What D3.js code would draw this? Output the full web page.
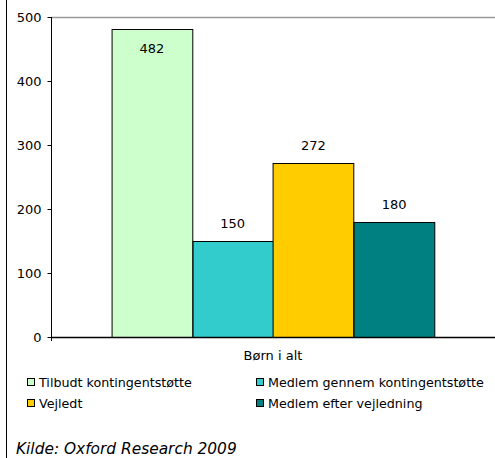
<!DOCTYPE html>
<html>
  <head>
    <meta charset="UTF-8" />
    <script src="https://d3js.org/d3.v7.min.js"></script>
    <style>
      body { margin: 0; background: #fff; }
      text { font-family: "DejaVu Sans", Verdana, sans-serif; fill: #000; }
    </style>
  </head>
  <body>
    <div id="chart"></div>
    <script>
      var categories = ["Børn i alt"];
      var seriesNames = [
        "Tilbudt kontingentstøtte",
        "Medlem gennem kontingentstøtte",
        "Vejledt",
        "Medlem efter vejledning",
      ];
      var seriesValues = [482, 150, 272, 180];
      var seriesColors = ["#CCFFCC", "#33CCCC", "#FFCC00", "#008080"];
      var yTicks = [0, 100, 200, 300, 400, 500];
      var source = "Kilde: Oxford Research 2009";

      var width = 495, height = 458;
      var margin = { top: 17, right: 0, bottom: 121, left: 51 };

      var svg = d3
        .select("#chart")
        .append("svg")
        .attr("width", width)
        .attr("height", height);

      // left border of the frame
      svg.append("line")
        .attr("x1", 6.5).attr("x2", 6.5)
        .attr("y1", 0).attr("y2", height)
        .attr("stroke", "#000");

      var y = d3.scaleLinear().domain([0, 500]).range([height - margin.bottom, margin.top]);
      var x0 = d3.scaleBand().domain(categories).range([margin.left, width - margin.right]).padding(0.158);
      var x1 = d3.scaleBand().domain(seriesNames).range([0, x0.bandwidth()]);

      // top gridline at 500
      svg.append("line")
        .attr("x1", margin.left).attr("x2", width)
        .attr("y1", y(500) + 0.5).attr("y2", y(500) + 0.5)
        .attr("stroke", "#999").attr("stroke-width", 1.5);

      // bars
      var g = svg.append("g").attr("transform", "translate(" + x0(categories[0]) + ",0)");
      g.selectAll("rect")
        .data(seriesNames)
        .enter()
        .append("rect")
        .attr("x", function (d) { return Math.round(x1(d)) + 0.5; })
        .attr("y", function (d, i) { return Math.round(y(seriesValues[i])) + 0.5; })
        .attr("width", x1.bandwidth())
        .attr("height", function (d, i) { return y(0) - Math.round(y(seriesValues[i])); })
        .attr("fill", function (d, i) { return seriesColors[i]; })
        .attr("stroke", "#000")
        .attr("stroke-width", 1);

      g.selectAll("text.val")
        .data(seriesNames)
        .enter()
        .append("text")
        .attr("class", "val")
        .attr("x", function (d) { return x1(d) + x1.bandwidth() / 2; })
        .attr("y", function (d, i) {
          var yy = y(seriesValues[i]) - 13;
          return yy < margin.top + 10 ? y(seriesValues[i]) + 24 : yy;
        })
        .attr("text-anchor", "middle")
        .style("font-size", "13px")
        .text(function (d, i) { return seriesValues[i]; });

      // y axis
      var yAxis = svg.append("g")
        .attr("transform", "translate(" + (margin.left + 0.5) + ",0)")
        .call(d3.axisLeft(y).tickValues(yTicks).tickSize(4).tickPadding(6));
      yAxis.selectAll("text").style("font-size", "13px").style("font-family", "DejaVu Sans");
      yAxis.select(".domain").attr("d", "M0," + y(500) + "V" + (y(0) + 4));

      // x axis line
      svg.append("line")
        .attr("x1", margin.left).attr("x2", width)
        .attr("y1", y(0) + 0.5).attr("y2", y(0) + 0.5)
        .attr("stroke", "#000").attr("stroke-width", 1.5);

      svg.append("text")
        .attr("x", x0(categories[0]) + x0.bandwidth() / 2)
        .attr("y", y(0) + 23)
        .attr("text-anchor", "middle")
        .style("font-size", "13px")
        .text(categories[0]);

      // legend
      var legend = svg.selectAll("g.leg")
        .data(seriesNames)
        .enter()
        .append("g")
        .attr("class", "leg")
        .attr("transform", function (d, i) {
          return "translate(" + (i % 2 === 0 ? 27 : 256) + "," + (i < 2 ? 382 : 403) + ")";
        });
      legend.append("rect")
        .attr("x", 0.5).attr("y", -3.5)
        .attr("width", 7).attr("height", 7)
        .attr("fill", function (d, i) { return seriesColors[i]; })
        .attr("stroke", "#000");
      legend.append("text")
        .attr("x", 12).attr("y", 5)
        .style("font-size", "12.7px")
        .text(function (d) { return d; });

      svg.append("text")
        .attr("x", 16).attr("y", 454)
        .style("font-size", "15.4px")
        .style("font-style", "italic")
        .text(source);
    </script>
  </body>
</html>
